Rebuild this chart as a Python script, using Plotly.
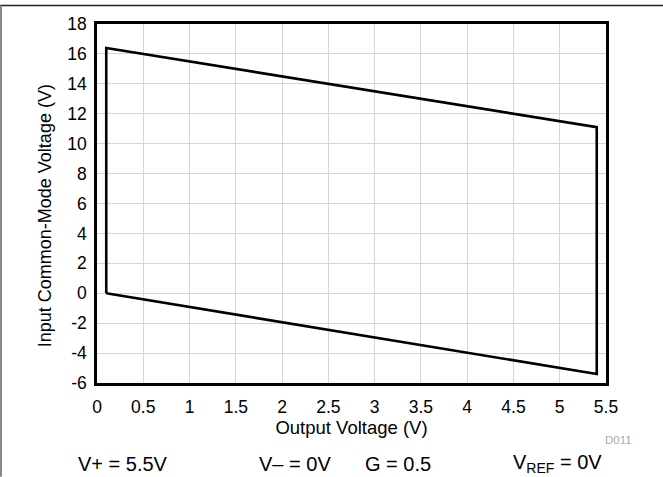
import plotly.graph_objects as go

# boundary of the input common-mode range (output voltage, common-mode voltage)
vout = [0.1, 0.1, 5.4, 5.4, 0.1]
vcm = [0.0, 16.4, 11.1, -5.4, 0.0]

x_ticks = [0, 0.5, 1, 1.5, 2, 2.5, 3, 3.5, 4, 4.5, 5, 5.5]
x_labels = ["0", "0.5", "1", "1.5", "2", "2.5", "3", "3.5", "4", "4.5", "5", "5.5"]
y_ticks = [-6, -4, -2, 0, 2, 4, 6, 8, 10, 12, 14, 16, 18]
y_labels = ["-6", "-4", "-2", "0", "2", "4", "6", "8", "10", "12", "14", "16", "18"]

conditions = ["V+ = 5.5V", "V\u2013 = 0V", "G = 0.5", "V<sub>REF</sub> = 0V"]
cond_px = [123, 295, 398, 557]

W, H = 663, 477
L, R, T, B = 97, 57, 23.5, 94
pw, ph = W - L - R, H - T - B

def px(x):
    return (x - L) / pw

def py(y):
    return (H - B - y) / ph

font = "Liberation Sans, Arial, Helvetica, sans-serif"

fig = go.Figure()
fig.add_trace(go.Scatter(x=vout, y=vcm, mode="lines", line=dict(color="black", width=2.6),
                         showlegend=False, hoverinfo="skip"))

axis_common = dict(showline=True, linecolor="black", linewidth=2.6, mirror=True,
                   showgrid=True, gridcolor="#d6d6d6", gridwidth=1, zeroline=False,
                   ticks="outside", tickcolor="rgba(0,0,0,0)",
                   tickfont=dict(size=17.5, color="black", family=font))

fig.update_layout(
    width=W, height=H,
    margin=dict(l=L, r=R, t=T, b=B),
    plot_bgcolor="white", paper_bgcolor="white",
    font=dict(family=font, color="black"),
    xaxis=dict(range=[0, 5.5], tickvals=x_ticks, ticktext=x_labels, ticklen=6,
               title=dict(text="Output Voltage (V)", font=dict(size=18.5), standoff=3),
               **axis_common),
    yaxis=dict(range=[-6, 18], tickvals=y_ticks, ticktext=y_labels, ticklen=4,
               **axis_common),
)

# y title placed like the reference (slightly below the axis centre)
fig.add_annotation(text="Input Common-Mode Voltage (V)", xref="paper", yref="paper",
                   x=px(45), y=py(216), textangle=-90, showarrow=False,
                   xanchor="center", yanchor="middle", font=dict(size=18, color="black", family=font))

# page frame lines
fig.add_shape(type="line", xref="paper", yref="paper", x0=px(0), x1=px(W), y0=py(5), y1=py(5),
              line=dict(color="#222222", width=1.5))
fig.add_shape(type="line", xref="paper", yref="paper", x0=px(1), x1=px(1), y0=py(5), y1=py(H),
              line=dict(color="#888888", width=2))

for txt, x in zip(conditions, cond_px):
    fig.add_annotation(text=txt, xref="paper", yref="paper", x=px(x), y=py(464), showarrow=False,
                       xanchor="center", yanchor="middle", font=dict(size=20, color="black", family=font))

fig.add_annotation(text="D011", xref="paper", yref="paper", x=px(634), y=py(440), showarrow=False,
                   xanchor="right", yanchor="middle", font=dict(size=11.5, color="#aaaaaa", family=font))

fig.write_html("out.html", config={"displayModeBar": False},
               post_script="document.body.style.margin='0';")
